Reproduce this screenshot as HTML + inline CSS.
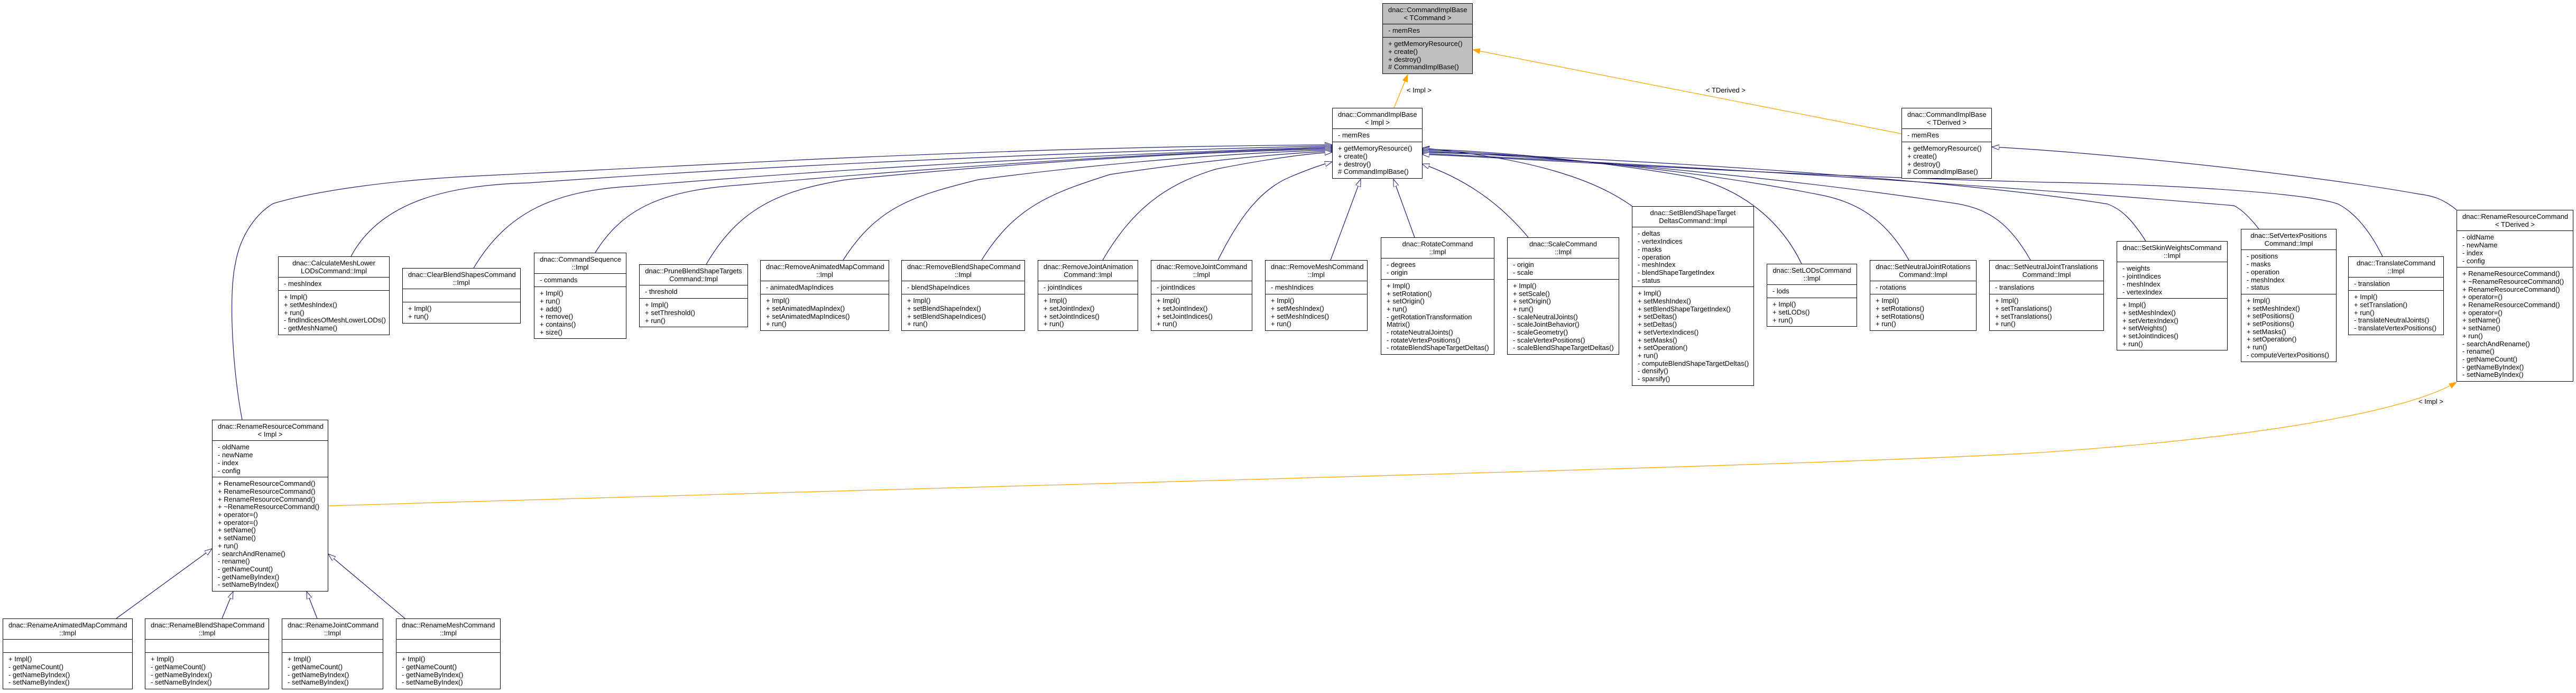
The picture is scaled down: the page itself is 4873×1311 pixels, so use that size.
<!DOCTYPE html>
<html><head><meta charset="utf-8">
<style>
html,body{margin:0;padding:0;background:#fff;}
#c{position:relative;width:4873px;height:1311px;overflow:hidden;background:#fff;}
svg{position:absolute;left:0;top:0;}
.b{position:absolute;border:1px solid #000;background:#fff;font:13px/14.7px "Liberation Sans",Arial,sans-serif;color:#000;box-sizing:border-box;}
.b>div{padding:5px 10px 4px;white-space:nowrap;border-top:1px solid #000;min-height:14.7px;}
.b>div:first-child{border-top:0;text-align:center;}
.g{background:#bfbfbf;}
.lbl{position:absolute;font:13px "Liberation Sans",Arial,sans-serif;white-space:nowrap;}
</style></head><body><div id="c">
<svg width="4873" height="1311" viewBox="0 0 4873 1311">
<defs>
<marker id="h" markerUnits="userSpaceOnUse" markerWidth="16" markerHeight="12" refX="14" refY="5" orient="auto"><path d="M0,0 L14,5 L0,10 z" fill="#fff" stroke="#191970" stroke-width="1"/></marker>
<marker id="o" markerUnits="userSpaceOnUse" markerWidth="16" markerHeight="12" refX="14" refY="5" orient="auto"><path d="M0,0 L14,5 L0,10 z" fill="#ffa500" stroke="#ffa500" stroke-width="1"/></marker>
</defs>
<g fill="none" stroke="#191970" stroke-width="1.2" marker-end="url(#h)">
<path d="M458,794 C440,700 432,560 445,500 C455,440 490,400 517,385 C600,360 750,340 900,333 L1524,302 C1900,285 2200,276 2520,274"/>
<path d="M664,485 C720,380 850,350 1000,346 C1500,310 2100,285 2520,276"/>
<path d="M896,507 C960,400 1050,360 1200,352 C1700,310 2200,288 2520,278"/>
<path d="M1126,478 C1180,390 1260,360 1400,350 C1900,305 2300,285 2520,280"/>
<path d="M1336,500 C1400,390 1480,360 1600,340 C2000,300 2350,285 2520,282"/>
<path d="M1595,492 C1660,390 1730,370 1850,340 C2150,300 2400,287 2520,284"/>
<path d="M1857,492 C1920,390 1990,365 2100,330 C2300,300 2450,289 2520,286"/>
<path d="M2086,492 C2140,400 2200,350 2300,320 C2400,300 2480,290 2520,288"/>
<path d="M2304,492 C2340,420 2380,360 2440,335 C2480,318 2500,312 2520,306"/>
<path d="M2517,492 L2574,339"/>
<path d="M2676,449 L2636,339"/>
<path d="M2891,449 C2850,400 2790,345 2690,310"/>
<path d="M3090,392 C3020,340 2900,300 2690,280"/>
<path d="M3408,499 C3370,420 3300,360 3200,335 C3000,300 2800,285 2690,282"/>
<path d="M3611,492 C3570,420 3520,385 3450,370 C3200,320 2900,292 2690,284"/>
<path d="M3841,492 C3800,420 3760,395 3700,385 C3400,340 3000,300 2690,286"/>
<path d="M4059,456 C4030,410 4010,395 3987,386 C3700,340 3100,300 2690,288"/>
<path d="M4273,433 C4255,410 4240,396 4226,389 C4000,370 3500,330 2690,290"/>
<path d="M4507,485 C4480,430 4450,400 4423,386 C4350,360 4000,346 3876,345 C3300,330 2900,300 2690,292"/>
<path d="M4647,397 C4620,375 4600,370 4575,367 C4400,335 4000,290 3768,278"/>
<path d="M220,1170 L401,1038"/>
<path d="M420,1170 L441,1119"/>
<path d="M600,1170 L580,1119"/>
<path d="M766,1170 L621,1048"/>
</g>
<g fill="none" stroke="#ffa500" stroke-width="1.3" marker-end="url(#o)">
<path d="M2637,204 L2663,141"/>
<path d="M3597,253 L2786,94"/>
<path d="M621,957 C2000,915 3500,880 3876,855 C4300,825 4560,775 4647,723"/>
</g>
</svg>
<div class="lbl" style="left:2661px;top:163px">&lt; Impl &gt;</div>
<div class="lbl" style="left:3227px;top:163px">&lt; TDerived &gt;</div>
<div class="lbl" style="left:4575px;top:752px">&lt; Impl &gt;</div>

<div class="b g" style="left:2615px;top:6px;width:171px"><div>dnac::CommandImplBase<br>&lt; TCommand &gt;</div><div>- memRes</div><div>+ getMemoryResource()<br>+ create()<br>+ destroy()<br># CommandImplBase()</div></div>
<div class="b" style="left:2520px;top:204px;width:171px"><div>dnac::CommandImplBase<br>&lt; Impl &gt;</div><div>- memRes</div><div>+ getMemoryResource()<br>+ create()<br>+ destroy()<br># CommandImplBase()</div></div>
<div class="b" style="left:3597px;top:204px;width:171px"><div>dnac::CommandImplBase<br>&lt; TDerived &gt;</div><div>- memRes</div><div>+ getMemoryResource()<br>+ create()<br>+ destroy()<br># CommandImplBase()</div></div>

<div class="b" style="left:526px;top:485px;width:211px"><div>dnac::CalculateMeshLower<br>LODsCommand::Impl</div><div>- meshIndex</div><div>+ Impl()<br>+ setMeshIndex()<br>+ run()<br>- findIndicesOfMeshLowerLODs()<br>- getMeshName()</div></div>
<div class="b" style="left:761px;top:507px;width:224px"><div>dnac::ClearBlendShapesCommand<br>::Impl</div><div></div><div>+ Impl()<br>+ run()</div></div>
<div class="b" style="left:1010px;top:478px;width:175px"><div>dnac::CommandSequence<br>::Impl</div><div>- commands</div><div>+ Impl()<br>+ run()<br>+ add()<br>+ remove()<br>+ contains()<br>+ size()</div></div>
<div class="b" style="left:1209px;top:500px;width:206px"><div>dnac::PruneBlendShapeTargets<br>Command::Impl</div><div>- threshold</div><div>+ Impl()<br>+ setThreshold()<br>+ run()</div></div>
<div class="b" style="left:1438px;top:492px;width:244px"><div>dnac::RemoveAnimatedMapCommand<br>::Impl</div><div>- animatedMapIndices</div><div>+ Impl()<br>+ setAnimatedMapIndex()<br>+ setAnimatedMapIndices()<br>+ run()</div></div>
<div class="b" style="left:1705px;top:492px;width:234px"><div>dnac::RemoveBlendShapeCommand<br>::Impl</div><div>- blendShapeIndices</div><div>+ Impl()<br>+ setBlendShapeIndex()<br>+ setBlendShapeIndices()<br>+ run()</div></div>
<div class="b" style="left:1963px;top:492px;width:190px"><div>dnac::RemoveJointAnimation<br>Command::Impl</div><div>- jointIndices</div><div>+ Impl()<br>+ setJointIndex()<br>+ setJointIndices()<br>+ run()</div></div>
<div class="b" style="left:2177px;top:492px;width:192px"><div>dnac::RemoveJointCommand<br>::Impl</div><div>- jointIndices</div><div>+ Impl()<br>+ setJointIndex()<br>+ setJointIndices()<br>+ run()</div></div>
<div class="b" style="left:2393px;top:492px;width:194px"><div>dnac::RemoveMeshCommand<br>::Impl</div><div>- meshIndices</div><div>+ Impl()<br>+ setMeshIndex()<br>+ setMeshIndices()<br>+ run()</div></div>
<div class="b" style="left:2612px;top:449px;width:215px"><div>dnac::RotateCommand<br>::Impl</div><div>- degrees<br>- origin</div><div>+ Impl()<br>+ setRotation()<br>+ setOrigin()<br>+ run()<br>- getRotationTransformation<br>Matrix()<br>- rotateNeutralJoints()<br>- rotateVertexPositions()<br>- rotateBlendShapeTargetDeltas()</div></div>
<div class="b" style="left:2851px;top:449px;width:212px"><div>dnac::ScaleCommand<br>::Impl</div><div>- origin<br>- scale</div><div>+ Impl()<br>+ setScale()<br>+ setOrigin()<br>+ run()<br>- scaleNeutralJoints()<br>- scaleJointBehavior()<br>- scaleGeometry()<br>- scaleVertexPositions()<br>- scaleBlendShapeTargetDeltas()</div></div>
<div class="b" style="left:3087px;top:390px;width:231px"><div>dnac::SetBlendShapeTarget<br>DeltasCommand::Impl</div><div>- deltas<br>- vertexIndices<br>- masks<br>- operation<br>- meshIndex<br>- blendShapeTargetIndex<br>- status</div><div>+ Impl()<br>+ setMeshIndex()<br>+ setBlendShapeTargetIndex()<br>+ setDeltas()<br>+ setDeltas()<br>+ setVertexIndices()<br>+ setMasks()<br>+ setOperation()<br>+ run()<br>- computeBlendShapeTargetDeltas()<br>- densify()<br>- sparsify()</div></div>
<div class="b" style="left:3342px;top:499px;width:171px"><div>dnac::SetLODsCommand<br>::Impl</div><div>- lods</div><div>+ Impl()<br>+ setLODs()<br>+ run()</div></div>
<div class="b" style="left:3537px;top:492px;width:202px"><div>dnac::SetNeutralJointRotations<br>Command::Impl</div><div>- rotations</div><div>+ Impl()<br>+ setRotations()<br>+ setRotations()<br>+ run()</div></div>
<div class="b" style="left:3763px;top:492px;width:217px"><div>dnac::SetNeutralJointTranslations<br>Command::Impl</div><div>- translations</div><div>+ Impl()<br>+ setTranslations()<br>+ setTranslations()<br>+ run()</div></div>
<div class="b" style="left:4004px;top:456px;width:210px"><div>dnac::SetSkinWeightsCommand<br>::Impl</div><div>- weights<br>- jointIndices<br>- meshIndex<br>- vertexIndex</div><div>+ Impl()<br>+ setMeshIndex()<br>+ setVertexIndex()<br>+ setWeights()<br>+ setJointIndices()<br>+ run()</div></div>
<div class="b" style="left:4239px;top:433px;width:181px"><div>dnac::SetVertexPositions<br>Command::Impl</div><div>- positions<br>- masks<br>- operation<br>- meshIndex<br>- status</div><div>+ Impl()<br>+ setMeshIndex()<br>+ setPositions()<br>+ setPositions()<br>+ setMasks()<br>+ setOperation()<br>+ run()<br>- computeVertexPositions()</div></div>
<div class="b" style="left:4442px;top:485px;width:181px"><div>dnac::TranslateCommand<br>::Impl</div><div>- translation</div><div>+ Impl()<br>+ setTranslation()<br>+ run()<br>- translateNeutralJoints()<br>- translateVertexPositions()</div></div>
<div class="b" style="left:4647px;top:397px;width:221px"><div>dnac::RenameResourceCommand<br>&lt; TDerived &gt;</div><div>- oldName<br>- newName<br>- index<br>- config</div><div>+ RenameResourceCommand()<br>+ ~RenameResourceCommand()<br>+ RenameResourceCommand()<br>+ operator=()<br>+ RenameResourceCommand()<br>+ operator=()<br>+ setName()<br>+ setName()<br>+ run()<br>- searchAndRename()<br>- rename()<br>- getNameCount()<br>- getNameByIndex()<br>- setNameByIndex()</div></div>
<div class="b" style="left:401px;top:794px;width:220px"><div>dnac::RenameResourceCommand<br>&lt; Impl &gt;</div><div>- oldName<br>- newName<br>- index<br>- config</div><div>+ RenameResourceCommand()<br>+ RenameResourceCommand()<br>+ RenameResourceCommand()<br>+ ~RenameResourceCommand()<br>+ operator=()<br>+ operator=()<br>+ setName()<br>+ setName()<br>+ run()<br>- searchAndRename()<br>- rename()<br>- getNameCount()<br>- getNameByIndex()<br>- setNameByIndex()</div></div>

<div class="b" style="left:5px;top:1170px;width:246px"><div>dnac::RenameAnimatedMapCommand<br>::Impl</div><div></div><div>+ Impl()<br>- getNameCount()<br>- getNameByIndex()<br>- setNameByIndex()</div></div>
<div class="b" style="left:274px;top:1170px;width:235px"><div>dnac::RenameBlendShapeCommand<br>::Impl</div><div></div><div>+ Impl()<br>- getNameCount()<br>- getNameByIndex()<br>- setNameByIndex()</div></div>
<div class="b" style="left:533px;top:1170px;width:192px"><div>dnac::RenameJointCommand<br>::Impl</div><div></div><div>+ Impl()<br>- getNameCount()<br>- getNameByIndex()<br>- setNameByIndex()</div></div>
<div class="b" style="left:749px;top:1170px;width:198px"><div>dnac::RenameMeshCommand<br>::Impl</div><div></div><div>+ Impl()<br>- getNameCount()<br>- getNameByIndex()<br>- setNameByIndex()</div></div>
</div></body></html>
